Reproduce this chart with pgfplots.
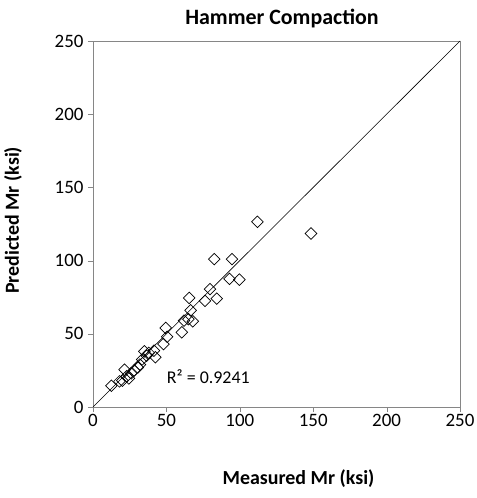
\documentclass[border=0pt]{standalone}
\usepackage{pgfplots}
\pgfplotsset{compat=1.18}
\usepackage{fontspec}
\setmainfont{Carlito}
\definecolor{framegray}{HTML}{868686}
\begin{document}
\begin{tikzpicture}
\begin{axis}[
  name=ax, at={(0,0)}, anchor=south west,
  scale only axis, width=367bp, height=366bp,
  xmin=0, xmax=250, ymin=0, ymax=250,
  xtick={0,50,...,250}, ytick={0,50,...,250},
  axis line style={framegray},
  tick style={framegray, major tick length=5bp},
  tick align=outside, xtick pos=bottom, ytick pos=left,
  /pgf/number format/assume math mode=true,
  ticklabel style={font=\fontsize{19}{22}\selectfont},
  xticklabel style={anchor=center, yshift=-8bp},
  yticklabel style={anchor=east, xshift=-1bp},
  title={\textbf{Hammer Compaction}},
  title style={font=\fontsize{22}{26}\selectfont, anchor=center, at={(axis description cs:0.515,1.045)}},
  xlabel={\textbf{Measured Mr (ksi)}},
  ylabel={\textbf{Predicted Mr (ksi)}},
  label style={font=\fontsize{20}{24}\selectfont},
  xlabel style={anchor=center, at={(axis description cs:0.56,-0.195)}},
  ylabel style={anchor=center, at={(axis description cs:-0.218,0.51)}},
  clip=false,
]
\addplot[black, line width=0.6pt, forget plot] coordinates {(0,0) (250,250)};
\addplot[only marks, mark=square, mark size=4.1bp, mark options={black, line width=0.7pt, rotate=45}] coordinates {
(12.5,14.5) (18,17.5) (20,18) (21.5,25.5) (23,21) (24.5,19.5) (26,23) (28,25)
(30.5,27) (32,29) (33.5,32.5) (35,38) (36.5,35) (38,37) (41.5,38.5) (42.5,34)
(48,43) (49.5,54) (50.5,48) (60.5,51) (62,59) (65,60) (65.5,74.5) (66.5,66)
(68,58.5) (76.3,72.5) (79.7,80.5) (84.3,74) (82.6,101) (93,87.5) (94.7,101)
(99.7,87) (112,126.5) (148.5,118.5)
};
\node[anchor=west, font=\fontsize{18}{21}\selectfont] at (axis cs:48,21) {R² = 0.9241};
\end{axis}
\pgfresetboundingbox
\path (-93bp,-91bp) rectangle (384bp,407bp);
\end{tikzpicture}
\end{document}
